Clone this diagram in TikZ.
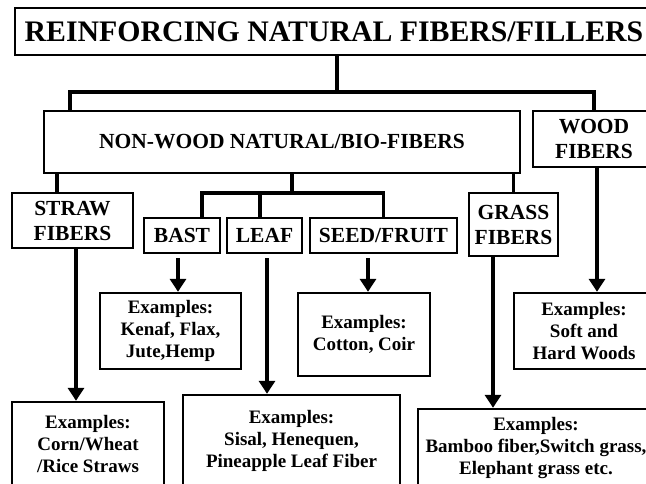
\documentclass[tikz,border=0pt]{standalone}
\usepackage{fontspec}
\setmainfont{Liberation Serif}
\usetikzlibrary{arrows.meta}
\begin{document}
\begin{tikzpicture}[x=1pt,y=-1pt,
  box/.style={draw, line width=2.4pt, rectangle, inner sep=0pt, align=center,
    font=\bfseries\fontsize{21.5}{25}\selectfont},
  exbox/.style={box, font=\bfseries\fontsize{19}{22}\selectfont},
  conn/.style={line width=3.4pt},
  arr/.style={line width=3.4pt, -{Triangle[length=13pt,width=16pt]}}]
\useasboundingbox (0,0) rectangle (646,483);
% level boxes
\node[box, minimum width=638pt, minimum height=47pt,
  font=\bfseries\fontsize{29.8}{34}\selectfont] (title) at (334,31.5) {REINFORCING NATURAL FIBERS/FILLERS};
\node[box, minimum width=476pt, minimum height=62pt] (nonwood) at (282,142) {NON-WOOD NATURAL/BIO-FIBERS};
\node[box, minimum width=122pt, minimum height=56pt] (wood) at (594,139) {WOOD\\FIBERS};
\node[box, minimum width=121pt, minimum height=55pt] (straw) at (72.5,220.5) {STRAW\\FIBERS};
\node[box, minimum width=76pt, minimum height=35pt] (bast) at (182,235.5) {BAST};
\node[box, minimum width=75pt, minimum height=35pt] (leaf) at (264.5,235.5) {LEAF};
\node[box, minimum width=147pt, minimum height=35pt] (seed) at (383.5,235.5) {SEED/FRUIT};
\node[box, minimum width=89pt, minimum height=63pt] (grass) at (513.5,224.5) {GRASS\\FIBERS};
% example boxes
\node[exbox, minimum width=152pt, minimum height=84pt] (strawex) at (88,444) {Examples:\\Corn/Wheat\\/Rice Straws};
\node[exbox, minimum width=141pt, minimum height=76pt] (bastex) at (170.5,331) {Examples:\\Kenaf, Flax,\\Jute,Hemp};
\node[exbox, minimum width=217pt, minimum height=92pt] (leafex) at (291.5,441) {Examples:\\Sisal, Henequen,\\Pineapple Leaf Fiber};
\node[exbox, minimum width=132pt, minimum height=83pt] (seedex) at (364,334.5) {Examples:\\Cotton, Coir};
\node[exbox, minimum width=236pt, minimum height=78pt] (grassex) at (536,448) {Examples:\\Bamboo fiber,Switch grass,\\Elephant grass etc.};
\node[exbox, minimum width=140pt, minimum height=76pt] (woodex) at (584,331) {Examples:\\Soft and\\Hard Woods};
% connectors
\coordinate (j1) at (337,92);
\coordinate (nwL) at (70,0);
\draw[conn] (title.south -| j1) -- (j1);
\draw[conn] (nonwood.north -| nwL) |- (j1) -| (wood.north);
\coordinate (sL) at (57,0);
\draw[conn] (nonwood.south -| sL) -- (straw.north -| sL);
\coordinate (j2) at (292,193);
\coordinate (bx) at (202,0);
\coordinate (lx) at (260,0);
\draw[conn] (nonwood.south -| j2) -- (j2);
\draw[conn] (bast.north -| bx) |- (j2) -| (seed.north);
\draw[conn] (leaf.north -| lx) -- (lx |- j2);
\draw[conn] (nonwood.south -| grass.north) -- (grass.north);
% arrows
\coordinate (sa) at (76,0);
\coordinate (ba) at (178,0);
\coordinate (la) at (267,0);
\coordinate (fa) at (368,0);
\coordinate (ga) at (493,0);
\coordinate (wa) at (597,0);
\draw[arr] (straw.south -| sa) -- (strawex.north -| sa);
\draw[arr, shorten <=4pt] (bast.south -| ba) -- (bastex.north -| ba);
\draw[arr, shorten <=4pt] (leaf.south -| la) -- (leafex.north -| la);
\draw[arr, shorten <=4pt] (seed.south -| fa) -- (seedex.north -| fa);
\draw[arr] (grass.south -| ga) -- (grassex.north -| ga);
\draw[arr] (wood.south -| wa) -- (woodex.north -| wa);
\end{tikzpicture}
\end{document}
